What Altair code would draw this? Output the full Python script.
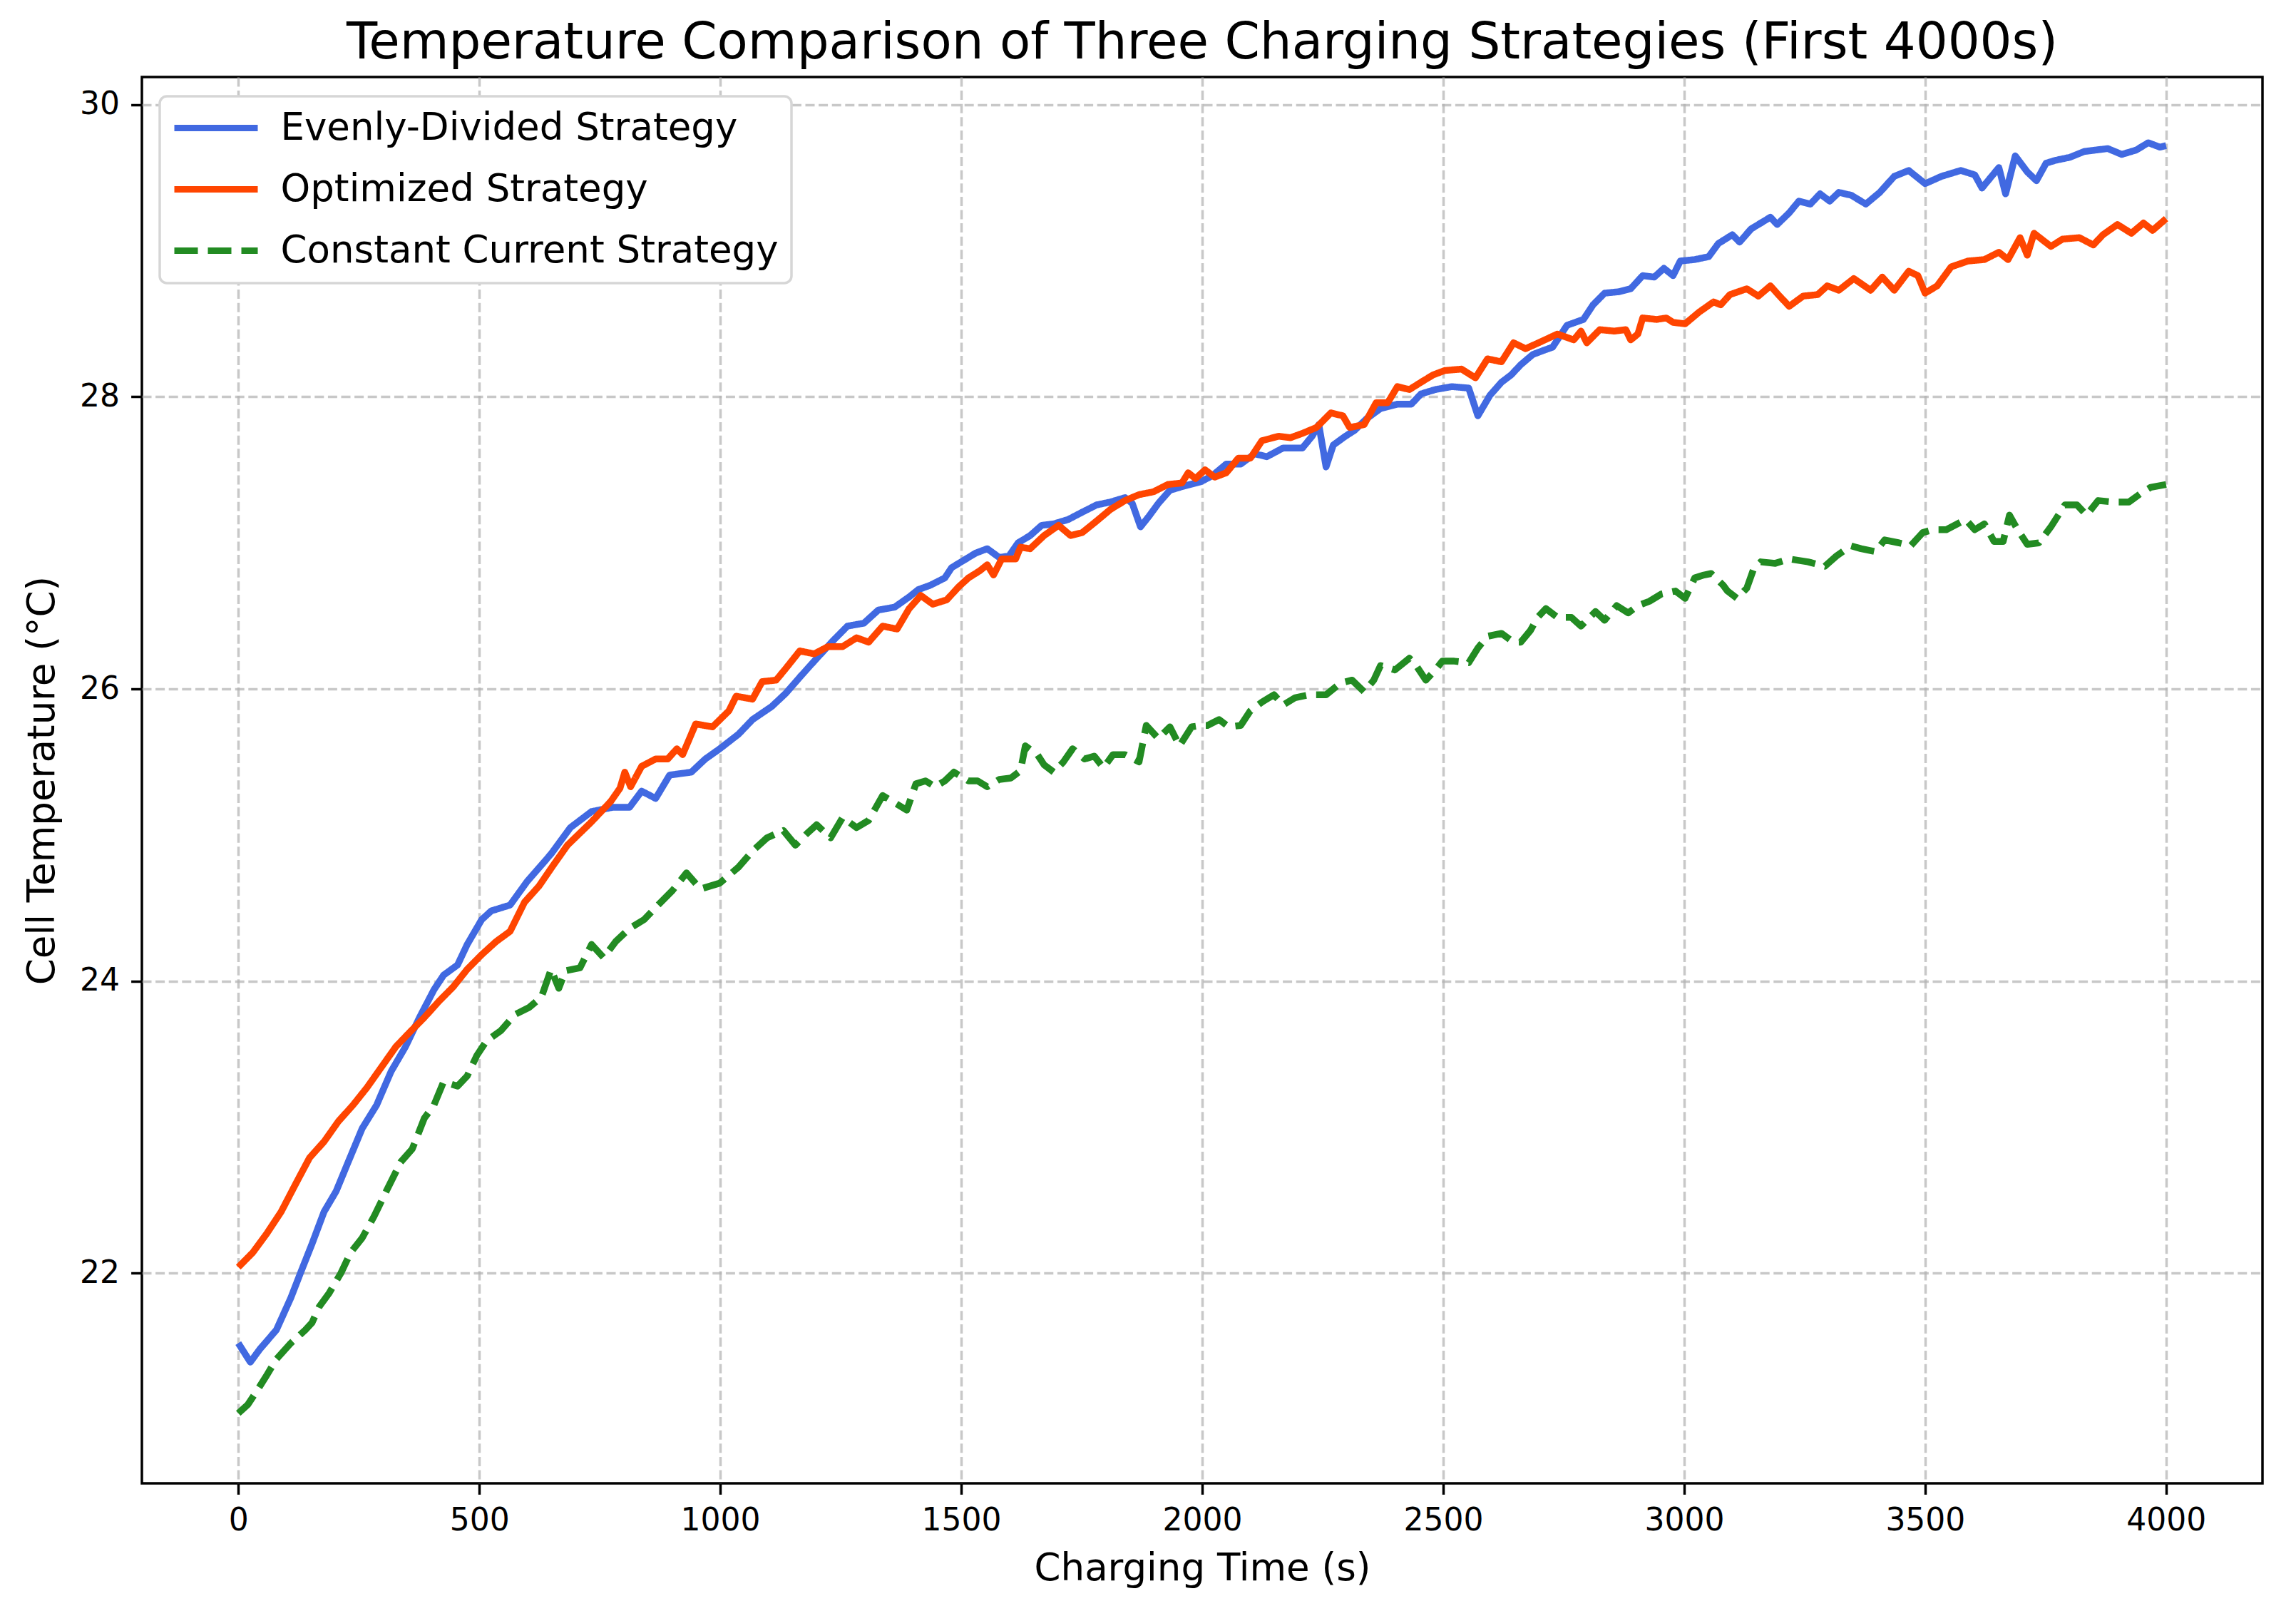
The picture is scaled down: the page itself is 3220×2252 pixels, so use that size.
import altair as alt
import pandas as pd

# ---- data ----
evenly_time = [0, 25, 45, 79, 109, 129, 153, 178, 203, 228, 257, 287, 317, 347, 376, 406, 426, 455, 475, 505,
               525, 564, 599, 649, 689, 733, 778, 812, 837, 866, 895, 940, 969, 999, 1038, 1067, 1107, 1136, 1165,
               1195, 1234, 1264, 1298, 1328, 1362, 1392, 1411, 1436, 1466, 1480, 1505, 1530, 1554, 1579, 1599,
               1618, 1643, 1667, 1692, 1722, 1751, 1781, 1810, 1840, 1855, 1872, 1889, 1909, 1933, 1963, 1998,
               2021, 2050, 2080, 2109, 2134, 2168, 2208, 2228, 2242, 2257, 2272, 2297, 2316, 2341, 2370, 2405,
               2434, 2454, 2484, 2518, 2553, 2572, 2597, 2621, 2641, 2661, 2686, 2710, 2727, 2757, 2791, 2811,
               2835, 2865, 2889, 2914, 2938, 2958, 2977, 2992, 3022, 3051, 3071, 3100, 3115, 3139, 3179, 3193,
               3218, 3238, 3262, 3282, 3302, 3321, 3347, 3377, 3406, 3436, 3466, 3500, 3534, 3574, 3603, 3618,
               3653, 3667, 3687, 3712, 3731, 3751, 3771, 3800, 3830, 3854, 3879, 3908, 3938, 3963, 3987, 4000]
evenly_temp = [21.52, 21.39, 21.48, 21.61, 21.83, 22.00, 22.20, 22.42, 22.56, 22.76, 22.99, 23.15, 23.38, 23.55,
               23.75, 23.94, 24.04, 24.11, 24.25, 24.42, 24.48, 24.52, 24.68, 24.87, 25.05, 25.16, 25.19, 25.19,
               25.30, 25.25, 25.41, 25.43, 25.52, 25.59, 25.69, 25.79, 25.88, 25.97, 26.08, 26.19, 26.33, 26.43,
               26.45, 26.54, 26.56, 26.63, 26.68, 26.71, 26.76, 26.83, 26.88, 26.93, 26.96, 26.90, 26.91, 27.00,
               27.05, 27.12, 27.13, 27.16, 27.21, 27.26, 27.28, 27.31, 27.27, 27.11, 27.18, 27.27, 27.36, 27.39,
               27.42, 27.46, 27.54, 27.54, 27.61, 27.59, 27.65, 27.65, 27.73, 27.81, 27.52, 27.67, 27.73, 27.77,
               27.85, 27.92, 27.95, 27.95, 28.02, 28.05, 28.07, 28.06, 27.87, 28.01, 28.10, 28.15, 28.22, 28.29,
               28.32, 28.34, 28.49, 28.53, 28.63, 28.71, 28.72, 28.74, 28.83, 28.82, 28.88, 28.83, 28.93, 28.94,
               28.96, 29.05, 29.11, 29.06, 29.15, 29.23, 29.18, 29.26, 29.34, 29.32, 29.39, 29.34, 29.40, 29.38,
               29.32, 29.40, 29.51, 29.55, 29.46, 29.51, 29.55, 29.52, 29.43, 29.57, 29.39, 29.65, 29.54, 29.48,
               29.60, 29.62, 29.64, 29.68, 29.69, 29.70, 29.66, 29.69, 29.74, 29.71, 29.72]

optimized_time = [0, 30, 59, 89, 119, 148, 178, 208, 238, 267, 297, 327, 356, 386, 416, 446, 475, 505, 535, 564,
                  594, 624, 653, 683, 733, 773, 792, 802, 814, 837, 866, 891, 910, 922, 949, 984, 1018, 1033,
                  1067, 1087, 1116, 1136, 1165, 1195, 1224, 1254, 1283, 1308, 1337, 1367, 1392, 1416, 1441, 1470,
                  1495, 1515, 1539, 1554, 1567, 1584, 1613, 1623, 1643, 1672, 1702, 1727, 1751, 1781, 1810, 1840,
                  1869, 1899, 1929, 1958, 1971, 1986, 2006, 2026, 2050, 2075, 2100, 2124, 2159, 2183, 2208, 2237,
                  2267, 2292, 2306, 2336, 2361, 2385, 2405, 2430, 2454, 2479, 2503, 2538, 2567, 2592, 2621, 2646,
                  2671, 2698, 2737, 2771, 2786, 2798, 2825, 2855, 2879, 2889, 2904, 2914, 2943, 2963, 2977, 3002,
                  3031, 3061, 3076, 3095, 3130, 3154, 3179, 3198, 3218, 3247, 3277, 3297, 3321, 3352, 3387, 3411,
                  3436, 3466, 3485, 3500, 3525, 3554, 3589, 3623, 3653, 3672, 3697, 3712, 3726, 3761, 3785, 3820,
                  3849, 3869, 3899, 3928, 3953, 3972, 4000]
optimized_temp = [22.04, 22.14, 22.27, 22.42, 22.61, 22.79, 22.90, 23.04, 23.15, 23.27, 23.41, 23.55, 23.65,
                  23.75, 23.86, 23.96, 24.08, 24.18, 24.27, 24.34, 24.54, 24.65, 24.79, 24.93, 25.09, 25.23,
                  25.32, 25.43, 25.33, 25.47, 25.52, 25.52, 25.59, 25.55, 25.76, 25.74, 25.85, 25.95, 25.93,
                  26.05, 26.06, 26.14, 26.26, 26.24, 26.29, 26.29, 26.35, 26.32, 26.43, 26.41, 26.55, 26.64,
                  26.58, 26.61, 26.70, 26.76, 26.81, 26.85, 26.78, 26.89, 26.89, 26.97, 26.96, 27.05, 27.12,
                  27.05, 27.07, 27.15, 27.23, 27.29, 27.33, 27.35, 27.40, 27.41, 27.48, 27.44, 27.50, 27.45,
                  27.48, 27.58, 27.58, 27.70, 27.73, 27.72, 27.75, 27.79, 27.89, 27.87, 27.79, 27.81, 27.96,
                  27.96, 28.07, 28.05, 28.10, 28.15, 28.18, 28.19, 28.13, 28.26, 28.24, 28.37, 28.33, 28.37,
                  28.43, 28.39, 28.45, 28.37, 28.46, 28.45, 28.46, 28.39, 28.43, 28.54, 28.53, 28.54, 28.51,
                  28.50, 28.58, 28.65, 28.63, 28.70, 28.74, 28.69, 28.76, 28.69, 28.62, 28.69, 28.70, 28.76,
                  28.73, 28.81, 28.73, 28.82, 28.73, 28.86, 28.83, 28.71, 28.76, 28.89, 28.93, 28.94, 28.99,
                  28.94, 29.09, 28.97, 29.12, 29.03, 29.08, 29.09, 29.04, 29.11, 29.18, 29.12, 29.19, 29.14,
                  29.22]

constant_time = [0, 20, 40, 59, 79, 109, 139, 153, 168, 188, 213, 233, 257, 282, 307, 337, 361, 386, 406, 426,
                 455, 475, 495, 515, 545, 574, 604, 629, 649, 665, 679, 709, 733, 758, 783, 812, 842, 871, 901,
                 930, 959, 999, 1038, 1067, 1097, 1131, 1156, 1180, 1200, 1229, 1254, 1283, 1308, 1337, 1362,
                 1387, 1406, 1426, 1446, 1466, 1485, 1515, 1534, 1554, 1579, 1603, 1623, 1633, 1658, 1672, 1692,
                 1712, 1731, 1756, 1776, 1795, 1815, 1840, 1869, 1884, 1909, 1933, 1953, 1978, 1998, 2011, 2035,
                 2055, 2080, 2100, 2124, 2149, 2168, 2193, 2223, 2257, 2287, 2311, 2336, 2356, 2370, 2400, 2430,
                 2444, 2464, 2484, 2498, 2523, 2553, 2572, 2592, 2621, 2646, 2661, 2681, 2696, 2713, 2737, 2766,
                 2786, 2816, 2835, 2860, 2884, 2904, 2928, 2953, 2982, 3002, 3022, 3041, 3056, 3081, 3090, 3110,
                 3130, 3144, 3159, 3189, 3218, 3257, 3292, 3316, 3346, 3367, 3397, 3416, 3446, 3470, 3495, 3515,
                 3544, 3584, 3603, 3623, 3643, 3662, 3675, 3692, 3712, 3736, 3761, 3790, 3815, 3835, 3859, 3889,
                 3923, 3948, 3968, 4000]
constant_temp = [21.04, 21.10, 21.20, 21.30, 21.41, 21.52, 21.61, 21.66, 21.77, 21.86, 22.00, 22.14, 22.24,
                 22.39, 22.56, 22.76, 22.85, 23.06, 23.15, 23.31, 23.28, 23.35, 23.49, 23.59, 23.66, 23.77,
                 23.82, 23.89, 24.08, 23.95, 24.07, 24.09, 24.25, 24.16, 24.27, 24.36, 24.42, 24.52, 24.62,
                 24.74, 24.63, 24.67, 24.78, 24.89, 24.98, 25.03, 24.93, 25.01, 25.07, 24.98, 25.12, 25.05,
                 25.10, 25.27, 25.22, 25.17, 25.35, 25.37, 25.33, 25.37, 25.43, 25.37, 25.37, 25.33, 25.38,
                 25.39, 25.44, 25.61, 25.55, 25.48, 25.43, 25.50, 25.59, 25.52, 25.54, 25.46, 25.55, 25.55,
                 25.50, 25.75, 25.66, 25.74, 25.61, 25.74, 25.75, 25.75, 25.79, 25.74, 25.75, 25.85, 25.91,
                 25.96, 25.89, 25.94, 25.96, 25.96, 26.04, 26.06, 25.98, 26.06, 26.16, 26.13, 26.21, 26.16,
                 26.06, 26.13, 26.19, 26.19, 26.18, 26.28, 26.36, 26.38, 26.32, 26.32, 26.40, 26.49, 26.55,
                 26.49, 26.49, 26.43, 26.53, 26.47, 26.57, 26.52, 26.57, 26.60, 26.65, 26.67, 26.62, 26.76,
                 26.78, 26.79, 26.71, 26.67, 26.62, 26.69, 26.82, 26.87, 26.86, 26.89, 26.87, 26.84, 26.91,
                 26.98, 26.96, 26.94, 27.02, 27.00, 26.98, 27.07, 27.09, 27.09, 27.16, 27.09, 27.13, 27.01,
                 27.01, 27.19, 27.09, 26.99, 27.00, 27.11, 27.26, 27.26, 27.19, 27.29, 27.28, 27.28, 27.34,
                 27.38, 27.40]

strategy_names = ["Evenly-Divided Strategy", "Optimized Strategy", "Constant Current Strategy"]
strategy_colors = ["#4169E1", "#FF4500", "#228B22"]
strategy_dashes = [[1, 0], [1, 0], [33, 14]]
x_ticks = [0, 500, 1000, 1500, 2000, 2500, 3000, 3500, 4000]
y_ticks = [22, 24, 26, 28, 30]

series = [(strategy_names[0], evenly_time, evenly_temp),
          (strategy_names[1], optimized_time, optimized_temp),
          (strategy_names[2], constant_time, constant_temp)]
df = pd.concat([pd.DataFrame({"time": t, "temp": v, "strategy": n}) for n, t, v in series],
               ignore_index=True)

FONT = "DejaVu Sans"

legend = alt.Legend(title=None, orient="none", legendX=25, legendY=27)

x = alt.X("time:Q", scale=alt.Scale(domain=[-200, 4200], nice=False, zero=False),
          axis=alt.Axis(values=x_ticks, format="d", title="Charging Time (s)", titlePadding=19,
                        labelPadding=15))
y = alt.Y("temp:Q", scale=alt.Scale(domain=[20.56, 30.19], nice=False, zero=False),
          axis=alt.Axis(values=y_ticks, format="d", title="Cell Temperature (°C)", titlePadding=25,
                        labelPadding=16))
color = alt.Color("strategy:N", scale=alt.Scale(domain=strategy_names, range=strategy_colors),
                  legend=legend, title=None)
dash = alt.StrokeDash("strategy:N", scale=alt.Scale(domain=strategy_names, range=strategy_dashes),
                      legend=legend, title=None)

layers = [
    alt.Chart(df).transform_filter(alt.datum.strategy == n)
    .mark_line(strokeWidth=9.5, strokeJoin="round")
    .encode(x=x, y=y, color=color, strokeDash=dash)
    for n in strategy_names
]

chart = alt.layer(*layers).properties(
    width=2974, height=1972,
    padding={"left": 191, "top": 100, "right": 39, "bottom": 164},
    autosize=alt.AutoSizeParams(type="none"),
    title=alt.Title("Temperature Comparison of Three Charging Strategies (First 4000s)",
                    font=FONT, fontSize=70.7, fontWeight="normal", color="black",
                    anchor="middle", frame="group", offset=11),
).configure_view(stroke="black", strokeWidth=3.5).configure_axis(
    labelFont=FONT, labelFontSize=44, labelColor="black",
    titleFont=FONT, titleFontSize=53, titleFontWeight="normal", titleColor="black",
    tickColor="black", tickWidth=3.5, tickSize=15.4,
    domain=False, grid=True, gridColor="#b0b0b0", gridOpacity=0.7, gridWidth=3.5, gridDash=[13, 5.6],
).configure_legend(
    fillColor="white", strokeColor="#d6d6d6", strokeWidth=3.5, cornerRadius=10, padding=18,
    labelFont=FONT, labelFontSize=53, labelColor="black", labelLimit=2000, labelOffset=64,
    symbolType="M-3,0H3", symbolSize=1521, symbolStrokeWidth=9, rowPadding=32, symbolOffset=34.5,
)

chart.save("out.html", embed_options={"renderer": "svg", "actions": False})
